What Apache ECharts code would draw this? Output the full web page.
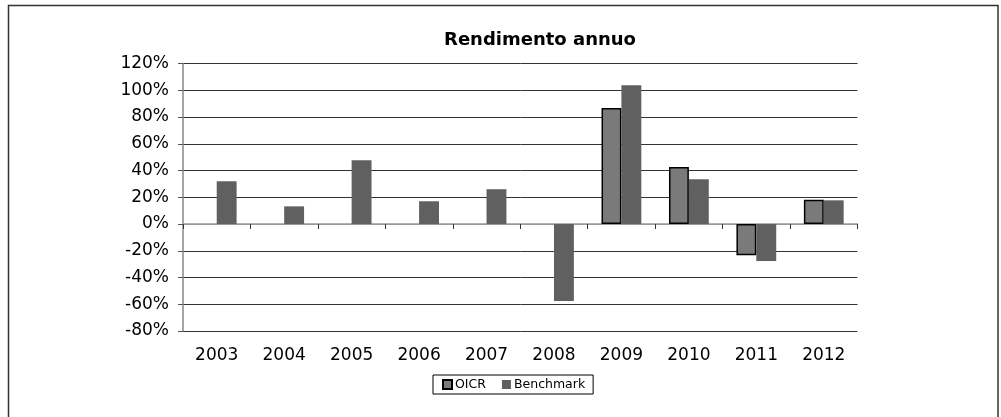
<!DOCTYPE html>
<html><head><meta charset="utf-8">
<script src="https://cdn.jsdelivr.net/npm/echarts@6/dist/echarts.min.js"></script>
<style>html,body{margin:0;padding:0;background:#fff}#c{width:1001px;height:417px}</style>
</head><body><div id="c"></div>
<script>
const years = ['2003','2004','2005','2006','2007','2008','2009','2010','2011','2012'];
const oicr = [null,null,null,null,null,null,86.7,42.6,-23.4,18.2];
const benchmark = [31.9,13.2,47.6,17.0,26.0,-57.6,103.7,33.4,-27.7,17.7];
const yTicks = {min:-80, max:120, interval:20};

const chart = echarts.init(document.getElementById('c'), null, {renderer:'canvas'});
const font = 'DejaVu Sans';
const splitColors = [];
for (let v = yTicks.min; v <= yTicks.max; v += yTicks.interval) splitColors.push(v === 0 ? '#999' : '#333');

chart.setOption({
  animation:false,
  backgroundColor:'#fff',
  graphic:[{type:'rect', shape:{x:8.5,y:5.5,width:989.5,height:430}, style:{fill:null, stroke:'#333', lineWidth:1.5}, silent:true}],
  title:{text:'Rendimento annuo', left:535, textAlign:'center', top:26,
    textStyle:{fontFamily:font, fontWeight:'bold', fontSize:18, color:'#000'}},
  legend:{left:433, top:375, itemWidth:9, itemHeight:9, itemGap:16, padding:[3,8,3,9],
    borderColor:'#000', borderWidth:1,
    textStyle:{fontFamily:font, fontSize:12.5, color:'#000', padding:[0,0,0,-2]},
    data:[{name:'OICR', icon:'rect'},{name:'Benchmark', icon:'rect'}]},
  grid:{left:183, right:143.5, top:63.5, bottom:86, containLabel:false},
  xAxis:[
    {type:'category', data:years, position:'bottom',
     axisLine:{show:false, onZero:false}, axisTick:{show:false},
     axisLabel:{fontFamily:font, fontSize:17, color:'#000', margin:16}},
    {type:'category', data:years, position:'bottom',
     axisLine:{show:true, onZero:true, lineStyle:{color:'#999', width:1.5}},
     axisTick:{show:true, length:5, lineStyle:{color:'#333'}},
     axisLabel:{show:false}}
  ],
  yAxis:{type:'value', min:yTicks.min, max:yTicks.max, interval:yTicks.interval,
    axisLine:{show:true, lineStyle:{color:'#888', width:1.5}},
    axisTick:{show:true, length:5, lineStyle:{color:'#555'}},
    axisLabel:{fontFamily:font, fontSize:17, color:'#000', margin:14, formatter:v=>v+'%'},
    splitLine:{show:true, lineStyle:{color:splitColors, width:1}}},
  series:[
    {name:'OICR', type:'bar', data:oicr, barGap:'0%', barCategoryGap:'41%',
     itemStyle:{color:'#7a7a7a', borderColor:'#000', borderWidth:1.5}},
    {name:'Benchmark', type:'bar', data:benchmark, barGap:'0%', barCategoryGap:'41%',
     itemStyle:{color:'#606060'}}
  ]
});
</script></body></html>
